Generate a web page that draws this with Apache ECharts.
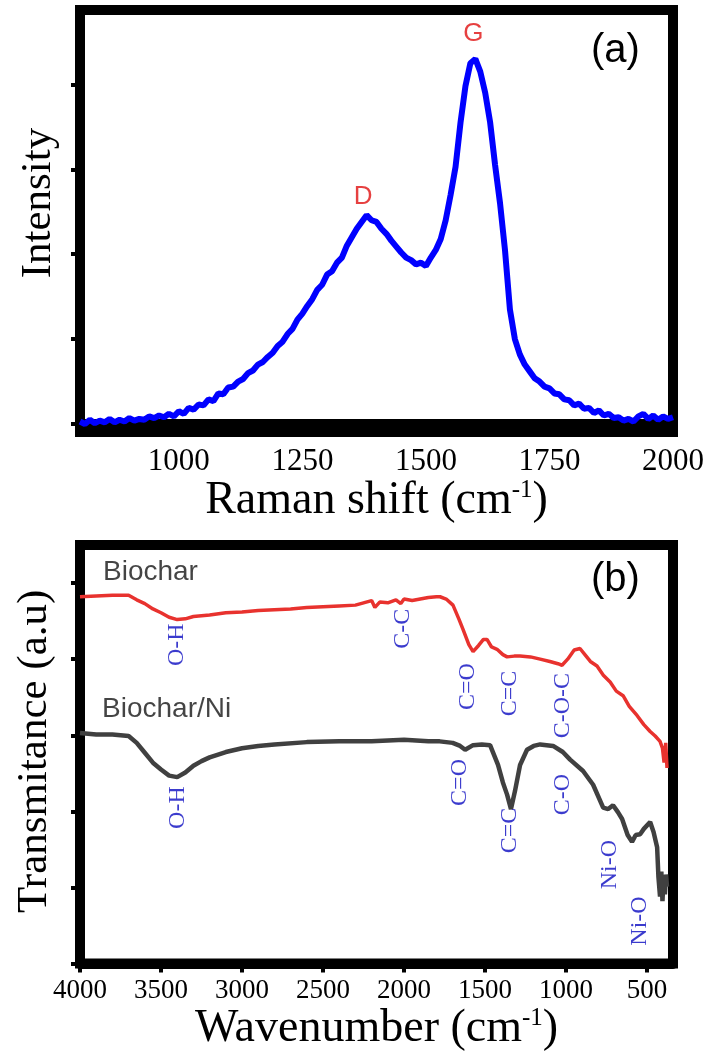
<!DOCTYPE html>
<html>
<head>
<meta charset="utf-8">
<script src="https://cdn.jsdelivr.net/npm/echarts@6/dist/echarts.min.js"></script>
<style>
html,body{margin:0;padding:0;background:#fff;}
#chart{width:712px;height:1053px;}
</style>
</head>
<body>
<div id="chart"></div>
<script>
// ---------- Panel (a): Raman ----------
const ramanShift = [800,810,820,830,840,850,860,870,880,890,900,910,920,930,940,950,960,970,980,990,
1000,1010,1020,1030,1040,1050,1060,1070,1080,1090,1100,1110,1120,1130,1140,1150,1160,1170,1180,1190,
1200,1210,1220,1230,1240,1250,1260,1270,1280,1290,1300,1310,1320,1330,1340,1350,1360,1370,1380,1390,
1400,1410,1420,1430,1440,1450,1460,1470,1480,1490,1500,1510,1520,1530,1540,1550,1560,1570,1580,1590,
1600,1610,1620,1630,1640,1650,1660,1670,1680,1690,1700,1710,1720,1730,1740,1750,1760,1770,1780,1790,
1800,1810,1820,1830,1840,1850,1860,1870,1880,1890,1900,1910,1920,1930,1940,1950,1960,1970,1980,1990,2000];
const ramanIntensity = [0.03,0.00,0.05,0.01,0.04,0.02,0.06,0.02,0.05,0.03,0.07,0.04,0.06,0.05,0.09,0.07,0.10,0.08,0.12,0.09,
0.15,0.12,0.19,0.17,0.23,0.22,0.29,0.27,0.36,0.35,0.43,0.44,0.50,0.53,0.60,0.63,0.70,0.73,0.79,0.84,
0.92,0.97,1.06,1.12,1.23,1.30,1.39,1.47,1.58,1.64,1.76,1.80,1.90,1.96,2.10,2.20,2.30,2.38,2.46,2.40,
2.38,2.30,2.24,2.16,2.09,2.02,1.96,1.93,1.88,1.90,1.86,1.96,2.05,2.18,2.40,2.70,3.03,3.55,3.98,4.25,
4.30,4.15,3.90,3.55,3.05,2.60,2.05,1.35,1.00,0.82,0.70,0.62,0.54,0.50,0.44,0.42,0.36,0.35,0.29,0.28,
0.22,0.24,0.18,0.19,0.13,0.16,0.10,0.12,0.07,0.08,0.04,0.06,0.03,0.09,0.12,0.06,0.10,0.05,0.09,0.06,0.08];
const ramanXTicks = [1000,1250,1500,1750,2000];
const ramanYTicks = [0,1,2,3,4];
const ramanPeakNames = ['D','G'];
const ramanPeakX = [1373,1596];
const ramanPeakY = [2.67,4.59];

// ---------- Panel (b): FTIR ----------
const biocharWn = [4000,3900,3800,3700,3650,3600,3550,3500,3450,3400,3350,3300,3200,3100,3000,2900,2800,2700,2600,2500,
2400,2300,2250,2200,2180,2150,2100,2050,2020,2000,1950,1900,1850,1800,1778,1740,1698,1660,1636,1600,
1574,1540,1510,1488,1460,1426,1390,1364,1320,1284,1220,1160,1100,1050,1025,990,950,914,880,850,
809,770,728,690,648,610,562,520,481,450,420,405,395,385,377];
const biocharT = [4.82,4.83,4.84,4.84,4.78,4.73,4.66,4.61,4.55,4.52,4.53,4.56,4.58,4.61,4.62,4.64,4.65,4.66,4.68,4.69,
4.70,4.71,4.74,4.77,4.68,4.75,4.74,4.78,4.73,4.79,4.77,4.79,4.81,4.82,4.82,4.79,4.71,4.52,4.39,4.19,
4.10,4.18,4.26,4.26,4.16,4.13,4.06,4.03,4.04,4.04,4.03,4.00,3.97,3.94,3.92,4.00,4.12,4.14,4.05,3.97,
3.91,3.79,3.70,3.58,3.52,3.38,3.26,3.14,3.05,2.99,2.92,2.83,2.64,2.90,2.57];
const niWn = [4000,3900,3800,3700,3650,3600,3550,3500,3450,3400,3350,3300,3250,3200,3100,3000,2900,2800,2600,2400,
2200,2000,1850,1780,1700,1654,1623,1574,1520,1469,1420,1390,1364,1340,1315,1284,1241,1200,1160,1080,
1020,975,895,833,771,740,710,680,654,620,593,570,543,520,481,460,438,430,420,412,405,398,390,383,377];
const niT = [3.03,3.01,3.01,2.99,2.90,2.77,2.64,2.55,2.47,2.45,2.51,2.60,2.66,2.71,2.78,2.83,2.86,2.88,2.91,2.92,
2.92,2.94,2.92,2.92,2.90,2.86,2.81,2.87,2.88,2.87,2.61,2.38,2.22,2.03,2.27,2.61,2.81,2.86,2.88,2.86,
2.78,2.68,2.53,2.35,2.05,2.03,2.08,1.99,1.90,1.69,1.60,1.69,1.70,1.77,1.86,1.73,1.53,1.14,0.88,1.21,0.82,1.14,0.91,1.17,1.01];
const ftirXTicks = [4000,3500,3000,2500,2000,1500,1000,500];
const ftirYTicks = [0,1,2,3,4,5];
const bandNames = ['O-H','C-C','C=O','C=C','C-O-C','O-H','C=O','C=C','C-O','Ni-O','Ni-O'];
const bandX = [3401,2006,1605,1346,1019,3395,1654,1346,1019,728,543];
const bandY = [4.19,4.40,3.64,3.55,3.39,2.05,2.38,1.75,2.22,1.30,0.56];
const sampleNames = ['Biochar','Biochar/Ni'];
const sampleX = [3858,3864];
const sampleY = [5.14,3.34];

const zip = (a,b) => a.map((v,i)=>[v,b[i]]);
const SERIF = '"Liberation Serif","Times New Roman",serif';
const SANS = '"Liberation Sans",Arial,sans-serif';

function frameAxisX(grid, ticks, name, min, max, inverse, labelSize, nameGap, nameSize) {
  return {
    type:'value', gridIndex:grid, min:min, max:max, inverse:inverse,
    name:name, nameLocation:'middle', nameGap:nameGap,
    nameTextStyle:{ rich:{ n:{fontFamily:SERIF,fontSize:nameSize,color:'#000'}, s:{fontFamily:SERIF,fontSize:25,color:'#000',padding:[0,0,22,0]} } },
    axisLine:{show:true,lineStyle:{color:'#000',width:10}},
    axisTick:{show:true,length:9,lineStyle:{color:'#000',width:4},customValues:ticks},
    axisLabel:{show:true,customValues:ticks,margin:14,fontFamily:SERIF,fontSize:labelSize,color:'#000',formatter:v=>String(v)},
    splitLine:{show:false}
  };
}
function frameAxisY(grid, ticks, name, min, max, nameGap, shiftPad) {
  return {
    type:'value', gridIndex:grid, min:min, max:max,
    name:name, nameLocation:'middle', nameGap:nameGap,
    nameTextStyle:{fontFamily:SERIF,fontSize:43,color:'#000',padding:[0,0,0,shiftPad]},
    axisLine:{show:true,lineStyle:{color:'#000',width:10}},
    axisTick:{show:true,length:9,lineStyle:{color:'#000',width:4},customValues:ticks},
    axisLabel:{show:false},
    splitLine:{show:false}
  };
}

const chart = echarts.init(document.getElementById('chart'), null, {renderer:'canvas'});
chart.setOption({
  animation:false,
  backgroundColor:'#fff',
  grid:[
    {left:80, right:39, top:10, bottom:621, show:true, borderColor:'#000', borderWidth:10},
    {left:80, right:39, top:545, bottom:85, show:true, borderColor:'#000', borderWidth:10}
  ],
  xAxis:[
    frameAxisX(0,ramanXTicks,'{n|Raman shift (cm}{s|-1}{n|)}',800,2000,false,31,41,46),
    frameAxisX(1,ftirXTicks,'{n|Wavenumber (cm}{s|-1}{n|)}',340,4000,true,27,37,46)
  ],
  yAxis:[
    frameAxisY(0,ramanYTicks,'Intensity',-0.094,4.876,20,36),
    frameAxisY(1,ftirYTicks,'Transmitance (a.u)',0,5.5,24,6)
  ],
  graphic:[
    {type:'text', left:591, top:31, style:{text:'(a)', font:'40px "Liberation Sans", Arial, sans-serif', fill:'#000'}},
    {type:'text', left:591, top:560, style:{text:'(b)', font:'40px "Liberation Sans", Arial, sans-serif', fill:'#000'}}
  ],
  series:[
    {type:'line', xAxisIndex:0, yAxisIndex:0, data:zip(ramanShift,ramanIntensity), showSymbol:false,
     lineStyle:{color:'#0000ff', width:6}, z:3},
    {type:'scatter', xAxisIndex:0, yAxisIndex:0, symbolSize:0,
     data:ramanPeakNames.map((n,i)=>({name:n, value:[ramanPeakX[i],ramanPeakY[i]]})),
     label:{show:true, position:'inside', formatter:p=>p.name, fontFamily:SANS, fontSize:26, color:'#e01010'}, z:5},
    {type:'line', xAxisIndex:1, yAxisIndex:1, data:zip(biocharWn,biocharT), showSymbol:false,
     lineStyle:{color:'#e8322e', width:3.5}, z:3},
    {type:'line', xAxisIndex:1, yAxisIndex:1, data:zip(niWn,niT), showSymbol:false,
     lineStyle:{color:'#404040', width:4.5}, z:3},
    {type:'scatter', xAxisIndex:1, yAxisIndex:1, symbolSize:0,
     data:bandNames.map((n,i)=>({name:n, value:[bandX[i],bandY[i]]})),
     label:{show:true, position:'inside', rotate:90, formatter:p=>p.name, fontFamily:SERIF, fontSize:24, color:'#0a0ac0'}, z:5},
    {type:'scatter', xAxisIndex:1, yAxisIndex:1, symbolSize:0,
     data:sampleNames.map((n,i)=>({name:n, value:[sampleX[i],sampleY[i]]})),
     label:{show:true, position:'right', distance:0, formatter:p=>p.name, fontFamily:SANS, fontSize:28, color:'#151515'}, z:5}
  ]
});
</script>
</body>
</html>
